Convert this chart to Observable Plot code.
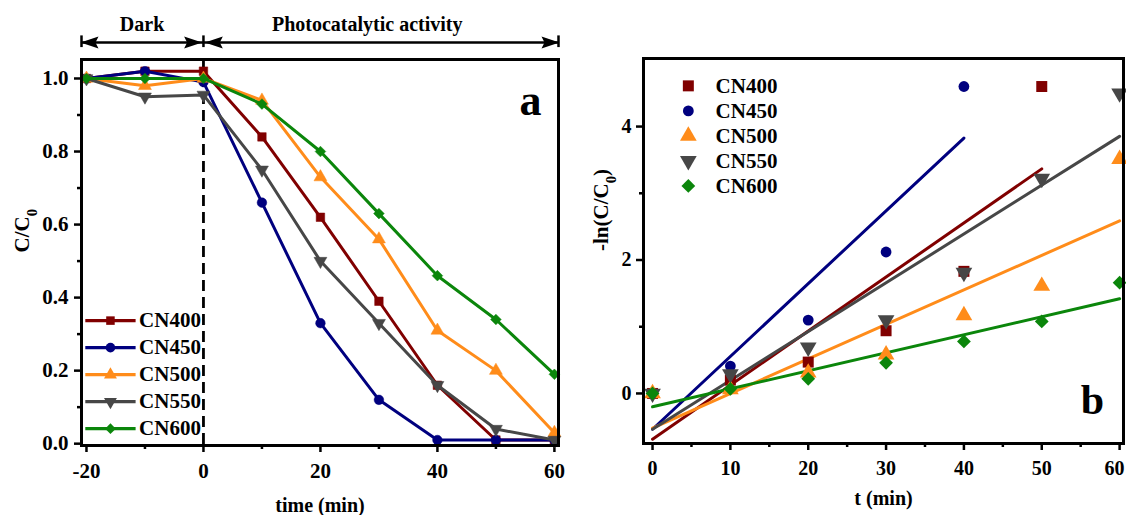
<!DOCTYPE html>
<html><head><meta charset="utf-8">
<script src="https://cdn.jsdelivr.net/npm/d3@7"></script>
<script src="https://cdn.jsdelivr.net/npm/@observablehq/plot@0.6"></script>
<style>
body{margin:0;background:#fff;}
#wrap{position:relative;width:1126px;height:515px;overflow:hidden;}
#pa{position:absolute;left:0;top:0;}
#pb{position:absolute;left:580px;top:0;}
svg{overflow:visible;}
</style></head><body><div id="wrap"><div id="pa"></div><div id="pb"></div></div>
<script>
// ---------- data ----------
const series = ["CN400","CN450","CN500","CN550","CN600"];
const colors = ["#800000","#00007f","#ff8c1a","#474747","#0b860b"];

// panel a: C/C0 vs time
const timeA = [-20,-10,0,10,20,30,40,50,60];
const cn400A = [1.00,1.02,1.02,0.84,0.62,0.39,0.16,0.01,0.01];
const cn450A = [1.00,1.02,0.99,0.66,0.33,0.12,0.01,0.01,0.01];
const cn500A = [1.00,0.98,1.00,0.94,0.73,0.56,0.31,0.20,0.03];
const cn550A = [1.00,0.95,0.955,0.75,0.50,0.33,0.16,0.04,0.01];
const cn600A = [1.00,1.00,1.00,0.93,0.80,0.63,0.46,0.34,0.19];
const xTicksA = [-20,0,20,40,60];
const xMinorA = [-10,10,30,50];
const yTicksA = [0,0.2,0.4,0.6,0.8,1.0];
const yMinorA = [0.1,0.3,0.5,0.7,0.9];

// panel b: -ln(C/C0) vs t
const timeB = [0,10,20,30,40,50,60];
const cn400B = [0,0.20,0.47,0.94,1.83,4.60];
const cn450B = [0,0.41,1.10,2.12,4.60];
const cn500B = [0,0.06,0.31,0.58,1.17,1.61,3.51];
const cn550B = [0,0.29,0.69,1.10,1.81,3.22,4.50];
const cn600B = [0,0.07,0.22,0.46,0.78,1.08,1.66];
const xTicksB = [0,10,20,30,40,50,60];
const xTickEdgeB = [60];
const xMinorB = [5,15,25,35,45,55];
const yTicksB = [0,2,4];
const yMinorB = [1,3];

const valsA = [cn400A,cn450A,cn500A,cn550A,cn600A];
const valsB = [cn400B,cn450B,cn500B,cn550B,cn600B];
const tableA = series.map((s,i)=>timeA.map((t,j)=>({series:s,t,v:valsA[i][j]})));
const tableB = series.map((s,i)=>valsB[i].map((v,j)=>({series:s,t:timeB[j],v})));

// ---------- symbols ----------
const s3 = Math.sqrt(3);
const triDown = {draw(ctx,size){const y=-Math.sqrt(size/(s3*3));ctx.moveTo(0,-2*y);ctx.lineTo(-s3*y,y);ctx.lineTo(s3*y,y);ctx.closePath();}};
const symbols = [d3.symbolSquare,d3.symbolCircle,d3.symbolTriangle,triDown,d3.symbolDiamond2];
const headRight = {draw(ctx){ctx.moveTo(1,0);ctx.lineTo(-17,-6);ctx.lineTo(-14,0);ctx.lineTo(-17,6);ctx.closePath();}};
const headLeft = {draw(ctx){ctx.moveTo(-1,0);ctx.lineTo(17,-6);ctx.lineTo(14,0);ctx.lineTo(17,6);ctx.closePath();}};

const font = "'Liberation Serif','Times New Roman',serif";
const baseStyle = {fontFamily:font,fontWeight:"bold",fontSize:"20px",color:"#000",background:"transparent",overflow:"visible"};

// ---------- panel a ----------
const xA = [-20.85,60.7];
const yA = [-0.005,1.052];
const yArrow = 1.0985, yBar1 = 1.086, yBar2 = 1.118, yTitle = 1.147;
const legA = {x1:-20.2,x2:-11.6,xm:-15.9,xt:-11.0,rows:[0.337,0.263,0.189,0.115,0.041]};

const marksA = [
  Plot.axisX({ticks:xTicksA,tickSize:7,tickPadding:11,strokeWidth:2.5,tickFormat:d=>String(d),label:null,fontSize:21}),
  Plot.axisX({ticks:xMinorA,tickSize:4,strokeWidth:2.5,tickFormat:()=>"",label:null}),
  Plot.axisY({ticks:yTicksA,tickSize:7,tickPadding:6,strokeWidth:2.5,tickFormat:d=>d.toFixed(1),label:null,fontSize:21}),
  Plot.axisY({ticks:yMinorA,tickSize:4,strokeWidth:2.5,tickFormat:()=>"",label:null}),
  Plot.ruleX([0],{stroke:"#000",strokeWidth:2.8,strokeDasharray:"11,6"})
];
series.forEach((s,i)=>{
  marksA.push(Plot.line(tableA[i],{x:"t",y:"v",stroke:colors[i],strokeWidth:3}));
  marksA.push(Plot.dot(tableA[i],{x:"t",y:"v",fill:colors[i],stroke:colors[i],strokeWidth:0.5,r:4.8,symbol:symbols[i]}));
});
marksA.push(Plot.frame({stroke:"#000",strokeWidth:3}));
series.forEach((s,i)=>{
  const yy = legA.rows[i];
  marksA.push(Plot.link([s],{x1:legA.x1,x2:legA.x2,y1:yy,y2:yy,stroke:colors[i],strokeWidth:3.2}));
  marksA.push(Plot.dot([s],{x:legA.xm,y:yy,fill:colors[i],r:4.8,symbol:symbols[i]}));
  marksA.push(Plot.text([s],{x:legA.xt,y:yy,text:d=>d,textAnchor:"start",lineAnchor:"middle",fontSize:21,fontWeight:"bold",fill:"#000"}));
});
// top arrows
marksA.push(Plot.link([0],{x1:xA[0],x2:xA[1],y1:yArrow,y2:yArrow,stroke:"#000",strokeWidth:2.5}));
marksA.push(Plot.link([xA[0],0,xA[1]],{x1:d=>d,x2:d=>d,y1:yBar1,y2:yBar2,stroke:"#000",strokeWidth:2.5}));
marksA.push(Plot.dot([xA[0],0.4],{x:d=>d,y:yArrow,symbol:headLeft,r:5,fill:"#000"}));
marksA.push(Plot.dot([-0.4,xA[1]],{x:d=>d,y:yArrow,symbol:headRight,r:5,fill:"#000"}));
marksA.push(Plot.text(["Dark"],{x:-10.5,y:yTitle,text:d=>d,fontSize:20,fontWeight:"bold",fill:"#000"}));
marksA.push(Plot.text(["Photocatalytic activity"],{x:28,y:yTitle,text:d=>d,fontSize:20,fontWeight:"bold",fill:"#000"}));
marksA.push(Plot.text(["a"],{frameAnchor:"top-right",dx:-28,dy:41,text:d=>d,fontSize:44,fontWeight:"bold",fill:"#000",textAnchor:"middle",lineAnchor:"middle"}));
marksA.push(Plot.text(["time (min)"],{frameAnchor:"bottom",dy:60,text:d=>d,fontSize:20,fontWeight:"bold",fill:"#000",lineAnchor:"middle"}));
marksA.push(Plot.text(["C/C0"],{frameAnchor:"left",dx:-59,text:d=>d,rotate:-90,fontSize:21,fontWeight:"bold",fill:"#000",lineAnchor:"middle"}));

const plotA = Plot.plot({
  width:580,height:515,marginLeft:81,marginRight:22,marginTop:59,marginBottom:70,
  x:{domain:xA},y:{domain:yA},style:baseStyle,marks:marksA
});
document.getElementById("pa").appendChild(plotA);

// ---------- panel b ----------
const xB = [-1.16,60.5];
const yB = [-0.75,5.02];
const legB = {xm:4.6,xt:8.1,rows:[4.61,4.235,3.86,3.485,3.11]};
const marksB = [
  Plot.axisX({ticks:xTicksB,tickSize:7,tickPadding:10,strokeWidth:2.5,tickFormat:d=>d===60?"":String(d),label:null,fontSize:20}),
  Plot.axisX({ticks:xTickEdgeB,tickSize:0,tickPadding:17,tickFormat:d=>String(d),label:null,fontSize:20,dx:-5}),
  Plot.axisX({ticks:xMinorB,tickSize:4,strokeWidth:2.5,tickFormat:()=>"",label:null}),
  Plot.axisY({ticks:yTicksB,tickSize:7,tickPadding:5,strokeWidth:2.5,tickFormat:d=>String(d),label:null,fontSize:20}),
  Plot.axisY({ticks:yMinorB,tickSize:4,strokeWidth:2.5,tickFormat:()=>"",label:null})
];
series.forEach((s,i)=>{
  marksB.push(Plot.linearRegressionY(tableB[i],{x:"t",y:"v",stroke:colors[i],strokeWidth:3,ci:0}));
});
series.forEach((s,i)=>{
  marksB.push(Plot.dot(tableB[i],{x:"t",y:"v",fill:colors[i],r:i===1?5.4:6.2,symbol:symbols[i]}));
});
marksB.push(Plot.frame({stroke:"#000",strokeWidth:3}));
series.forEach((s,i)=>{
  const yy = legB.rows[i];
  marksB.push(Plot.dot([s],{x:legB.xm,y:yy,fill:colors[i],r:i===1?5.4:6.2,symbol:symbols[i]}));
  marksB.push(Plot.text([s],{x:legB.xt,y:yy,text:d=>d,textAnchor:"start",lineAnchor:"middle",fontSize:21,fontWeight:"bold",fill:"#000"}));
});
marksB.push(Plot.text(["b"],{frameAnchor:"bottom-right",dx:-31,dy:-43,text:d=>d,fontSize:42,fontWeight:"bold",fill:"#000",textAnchor:"middle",lineAnchor:"middle"}));
marksB.push(Plot.text(["t (min)"],{frameAnchor:"bottom",dy:55,text:d=>d,fontSize:20,fontWeight:"bold",fill:"#000",lineAnchor:"middle"}));
marksB.push(Plot.text(["-ln(C/C0)"],{frameAnchor:"left",dx:-42,text:d=>d,rotate:-90,fontSize:21,fontWeight:"bold",fill:"#000",lineAnchor:"middle"}));

const plotB = Plot.plot({
  width:546,height:515,marginLeft:63,marginRight:3,marginTop:58,marginBottom:72,
  x:{domain:xB},y:{domain:yB},style:baseStyle,marks:marksB
});
document.getElementById("pb").appendChild(plotB);

// subscripts
document.querySelectorAll("svg text").forEach(t=>{
  if (t.textContent === "C/C0") t.innerHTML = 'C/C<tspan baseline-shift="sub" font-size="70%">0</tspan>';
  else if (t.textContent === "-ln(C/C0)") t.innerHTML = '-ln(C/C<tspan baseline-shift="sub" font-size="70%">0</tspan>)';
});
</script></body></html>
